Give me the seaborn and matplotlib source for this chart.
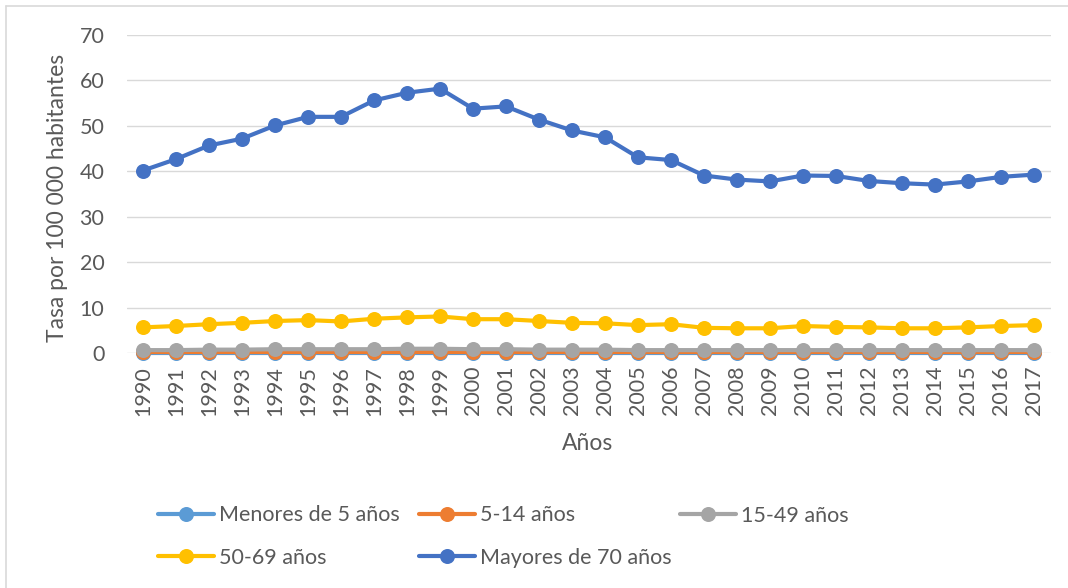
import matplotlib
matplotlib.use("Agg")
import matplotlib.pyplot as plt
import seaborn as sns
import pandas as pd

years = list(range(1990, 2018))
menores_5 = [0.1, 0.1, 0.1, 0.1, 0.1, 0.1, 0.1, 0.1, 0.1, 0.1, 0.1, 0.1, 0.1, 0.1,
             0.1, 0.1, 0.1, 0.1, 0.1, 0.1, 0.1, 0.1, 0.1, 0.1, 0.1, 0.1, 0.1, 0.1]
de_5_14 = [0.2, 0.2, 0.2, 0.2, 0.2, 0.2, 0.2, 0.2, 0.2, 0.2, 0.2, 0.2, 0.2, 0.2,
           0.2, 0.2, 0.2, 0.2, 0.2, 0.2, 0.2, 0.2, 0.2, 0.2, 0.2, 0.2, 0.2, 0.2]
de_15_49 = [0.7, 0.7, 0.8, 0.8, 0.9, 0.9, 0.9, 0.9, 1.0, 1.0, 0.9, 0.9, 0.8, 0.8,
            0.8, 0.7, 0.7, 0.7, 0.7, 0.7, 0.7, 0.7, 0.7, 0.7, 0.7, 0.7, 0.7, 0.7]
de_50_69 = [5.7, 6.0, 6.4, 6.7, 7.1, 7.3, 7.0, 7.6, 7.9, 8.1, 7.5, 7.5, 7.1, 6.7,
            6.6, 6.2, 6.4, 5.6, 5.5, 5.5, 6.0, 5.8, 5.7, 5.5, 5.5, 5.7, 6.0, 6.2]
mayores_70 = [40.2, 42.7, 45.7, 47.2, 50.1, 52.0, 52.0, 55.6, 57.3, 58.2, 53.8, 54.3,
              51.4, 49.0, 47.5, 43.1, 42.5, 39.1, 38.2, 37.8, 39.1, 39.0, 37.9, 37.4,
              37.1, 37.8, 38.8, 39.3]

series_names = ["Menores de 5 años", "5-14 años", "15-49 años", "50-69 años", "Mayores de 70 años"]
series_values = [menores_5, de_5_14, de_15_49, de_50_69, mayores_70]
colors = ["#5B9BD5", "#ED7D31", "#A5A5A5", "#FFC000", "#4472C4"]

y_ticks = [0, 10, 20, 30, 40, 50, 60, 70]

sns.set_theme(style="white")
plt.rcParams['font.family'] = ['Lato', 'DejaVu Sans']
txt_color = "#595959"

W, H = 1068, 588
fig = plt.figure(figsize=(W / 100, H / 100), dpi=100)
left_px, right_px, top_px, bot_px = 126.5, 1050.5, 35.0, 353.3
ax = fig.add_axes([left_px / W, 1 - bot_px / H, (right_px - left_px) / W, (bot_px - top_px) / H])

for name, vals, col in zip(series_names, series_values, colors):
    df = pd.DataFrame({"Año": years, "Tasa": vals})
    sns.lineplot(data=df, x="Año", y="Tasa", ax=ax, color=col, linewidth=3.0,
                 marker="o", markersize=10.8, markeredgewidth=0, markeredgecolor=col,
                 label=name, clip_on=False, zorder=3)

handles, labels = ax.get_legend_handles_labels()
if ax.get_legend() is not None:
    ax.get_legend().remove()

ax.set_xlim(years[0] - 0.5, years[-1] + 0.5)
ax.set_ylim(0, 70)
ax.set_yticks(y_ticks)
ax.set_xticks(years)
ax.set_xticklabels([str(y) for y in years], rotation=90)
ax.set_xlabel("")
ax.set_ylabel("")
for s in ax.spines.values():
    s.set_visible(False)
ax.grid(axis="y", color="#D9D9D9", linewidth=1.0, zorder=0)
ax.grid(axis="x", visible=False)
ax.set_axisbelow(True)
ax.tick_params(axis="y", length=0, labelsize=15.5, labelcolor=txt_color, pad=16)
ax.tick_params(axis="x", length=0, labelsize=15.5, labelcolor=txt_color, pad=9)

fig.text(57 / W, 1 - 198 / H, "Tasa por 100 000 habitantes", rotation=90,
         ha="center", va="center", fontsize=16.5, color=txt_color)
fig.text(588 / W, 1 - 443 / H, "Años", ha="center", va="center", fontsize=16.5, color=txt_color)

# chart area border (top and left visible)
fig.add_artist(plt.Line2D([6 / W, 1.0], [1 - 6 / H, 1 - 6 / H], color="#D9D9D9", linewidth=1.2))
fig.add_artist(plt.Line2D([6 / W, 6 / W], [0.0, 1 - 6 / H], color="#D9D9D9", linewidth=1.2))

hmap = dict(zip(labels, handles))
cols = [["Menores de 5 años", "50-69 años"], ["5-14 años", "Mayores de 70 años"], ["15-49 años"]]
col_x = [158, 419, 680]
for names, x in zip(cols, col_x):
    yc = 536.5 if len(names) == 2 else 516
    fig.legend([hmap[n] for n in names], names, loc="center left",
               bbox_to_anchor=(x / W, 1 - yc / H), frameon=False, fontsize=15.5,
               labelcolor=txt_color, handlelength=2.6, handletextpad=0.25,
               borderpad=0, borderaxespad=0, labelspacing=1.06)

fig.savefig("out.png", dpi=100)
